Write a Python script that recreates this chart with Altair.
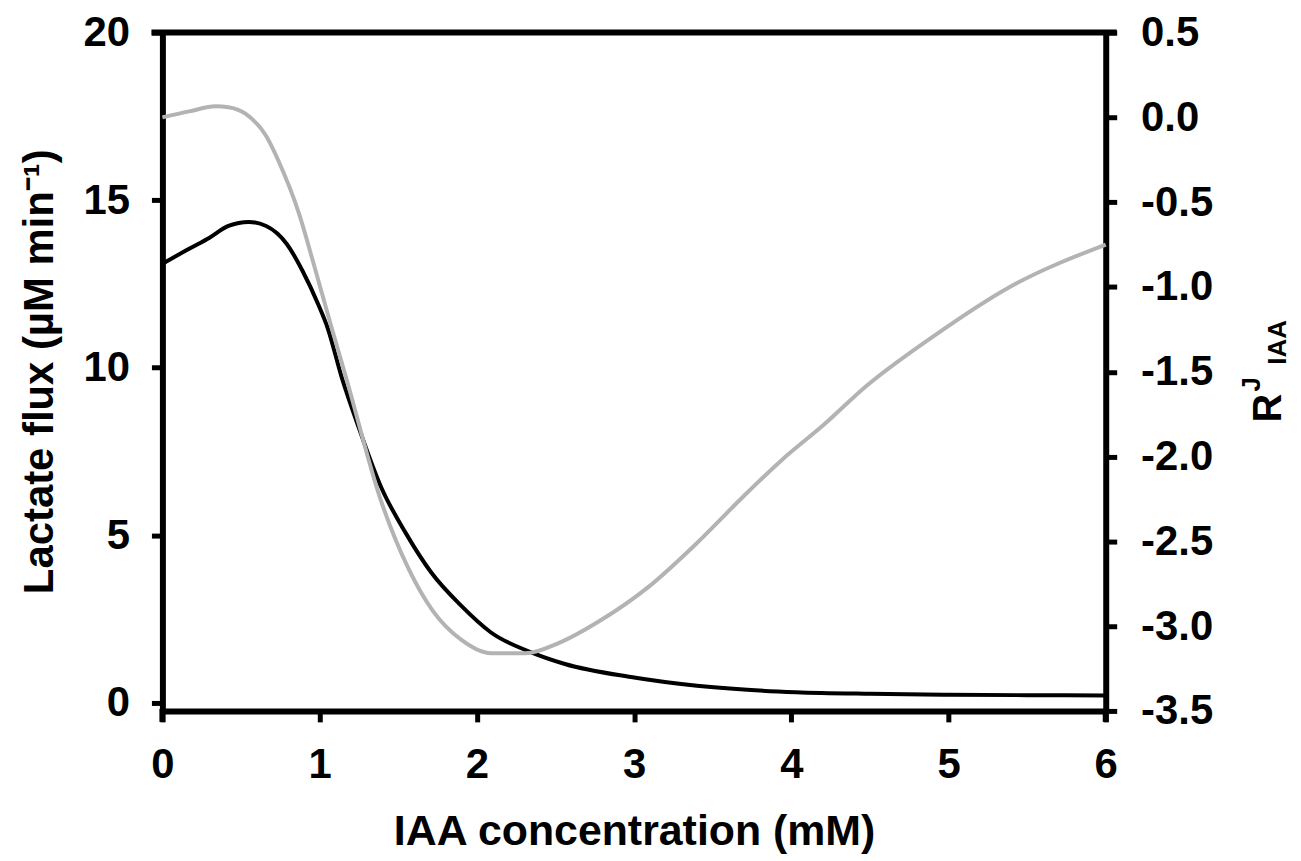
import altair as alt
import pandas as pd

# ---- data ----
conc_flux = [0.0, 0.17, 0.30, 0.42, 0.55, 0.66, 0.79, 0.89, 0.99, 1.05, 1.14, 1.25,
             1.39, 1.55, 1.71, 1.90, 2.09, 2.35, 2.56, 2.98, 3.40, 3.72, 4.03, 4.5,
             5.0, 5.5, 6.0]
lactate_flux = [13.1, 13.55, 13.88, 14.23, 14.35, 14.23, 13.7, 12.9, 11.9, 11.2, 9.72, 8.2,
                6.45, 5.05, 3.89, 2.9, 2.1, 1.5, 1.16, 0.77, 0.51, 0.39, 0.32, 0.27,
                0.24, 0.23, 0.22]

conc_r = [0.0, 0.17, 0.34, 0.42, 0.53, 0.66, 0.74, 0.87, 0.97, 1.07, 1.17, 1.39,
          1.57, 1.72, 1.90, 2.09, 2.31, 2.52, 2.78, 3.09, 3.40, 3.69, 3.94, 4.21,
          4.47, 4.89, 5.39, 6.0]
r_iaa = [0.0, 0.035, 0.065, 0.06, 0.02, -0.11, -0.26, -0.57, -0.89, -1.22, -1.54, -2.26,
         -2.67, -2.91, -3.08, -3.16, -3.16, -3.10, -2.97, -2.77, -2.51, -2.24, -2.02, -1.81,
         -1.59, -1.30, -1.00, -0.75]

x_ticks = [0, 1, 2, 3, 4, 5, 6]
left_ticks = [0, 5, 10, 15, 20]
right_ticks = [-3.5, -3.0, -2.5, -2.0, -1.5, -1.0, -0.5, 0.0, 0.5]

x_title = "IAA concentration (mM)"
left_title = "Lactate flux (µM min⁻¹)"
right_title_parts = ["R", "J", "IAA"]

W, H = 947, 681
FONT = "Liberation Sans"

flux_df = pd.DataFrame({"IAA": conc_flux, "flux": lactate_flux})
r_df = pd.DataFrame({"IAA": conc_r, "R": r_iaa})

x_scale = alt.Scale(domain=[0, 6], nice=False, zero=False)

black = alt.Chart(flux_df).mark_line(color="black", strokeWidth=4, interpolate="monotone").encode(
    x=alt.X("IAA:Q", scale=x_scale,
            axis=alt.Axis(values=x_ticks, format="d", title=x_title,
                          titleY=134, titleBaseline="alphabetic",
                          labelPadding=23)),
    y=alt.Y("flux:Q", scale=alt.Scale(domain=[-0.24, 20], nice=False, zero=False),
            axis=alt.Axis(orient="left", values=left_ticks, format="d",
                          title=left_title, titleX=-110, titleY=340, titleAngle=270,
                          titleAlign="center", titleBaseline="alphabetic",
                          titleFontSize=42, labelPadding=22)),
)

gray = alt.Chart(r_df).mark_line(color="#b3b3b3", strokeWidth=4, interpolate="monotone").encode(
    x=alt.X("IAA:Q", scale=x_scale),
    y=alt.Y("R:Q", scale=alt.Scale(domain=[-3.5, 0.5], nice=False, zero=False),
            axis=alt.Axis(orient="right", values=right_ticks, title="",
                          labelAlign="left",
                          labelExpr="datum.value < 0 ? '-' + format(-datum.value, '.1f') : format(datum.value, '.1f')",
                          labelPadding=24)),
)

top_rule = alt.Chart(pd.DataFrame({"k": ["top"]})).mark_rule(color="black", strokeWidth=6).encode(
    x=alt.value(-11), x2=alt.value(W + 11), y=alt.value(0))
left_ext = alt.Chart(pd.DataFrame({"k": ["left"]})).mark_rule(color="black", strokeWidth=6).encode(
    x=alt.value(0), y=alt.value(H - 2), y2=alt.value(H + 11))
right_ext = alt.Chart(pd.DataFrame({"k": ["right"]})).mark_rule(color="black", strokeWidth=6).encode(
    x=alt.value(W), y=alt.value(H - 2), y2=alt.value(H + 11))

def label_part(txt, size, xpix, ypix):
    return alt.Chart(pd.DataFrame({"t": [txt]})).mark_text(
        angle=270, align="center", baseline="alphabetic", fontSize=size,
        fontWeight="bold", font=FONT, color="black").encode(
        text="t:N", x=alt.value(xpix), y=alt.value(ypix))

r_main = label_part(right_title_parts[0], 40, 1123, 377)
r_sup = label_part(right_title_parts[1], 26, 1102, 353)
r_sub = label_part(right_title_parts[2], 26, 1128, 311)

chart = alt.layer(black, gray, top_rule, left_ext, right_ext, r_main, r_sup, r_sub).resolve_scale(
    y="independent"
).properties(
    width=W, height=H,
    autosize=alt.AutoSizeParams(type="none"),
    padding={"left": 155, "top": 23, "right": 188, "bottom": 146},
    background="white",
).configure_view(stroke=None).configure_axis(
    grid=False, labelFlush=False,
    domainColor="black", domainWidth=6,
    tickColor="black", tickWidth=5, tickSize=11,
    labelFont=FONT, labelFontSize=42, labelFontWeight="bold", labelColor="black",
    titleFont=FONT, titleFontSize=43, titleFontWeight="bold", titleColor="black",
)

chart.save("out.html", embed_options={"renderer": "svg", "actions": False})
